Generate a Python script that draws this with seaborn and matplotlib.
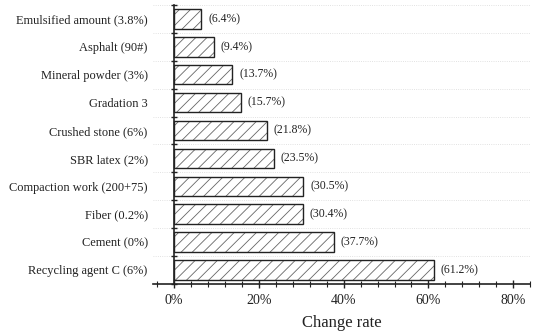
import numpy as np
import pandas as pd
import matplotlib
matplotlib.use('Agg')
import matplotlib.pyplot as plt
import matplotlib.colors as mcolors
import seaborn as sns
from matplotlib.ticker import MultipleLocator, FuncFormatter

categories = ['Emulsified amount (3.8%)', 'Asphalt (90#)', 'Mineral powder (3%)',
              'Gradation 3', 'Crushed stone (6%)', 'SBR latex (2%)',
              'Compaction work (200+75)', 'Fiber (0.2%)', 'Cement (0%)',
              'Recycling agent C (6%)']
change_rate = [6.4, 9.4, 13.7, 15.7, 21.8, 23.5, 30.5, 30.4, 37.7, 61.2]
value_labels = ['(6.4%)', '(9.4%)', '(13.7%)', '(15.7%)', '(21.8%)', '(23.5%)',
                '(30.5%)', '(30.4%)', '(37.7%)', '(61.2%)']


def main():
    sns.set_theme(style='white')
    plt.rcParams['font.family'] = ['Liberation Serif', 'DejaVu Serif']
    plt.rcParams['hatch.linewidth'] = 0.6

    df = pd.DataFrame({'Factor': categories, 'Change': change_rate})

    fig = plt.figure(figsize=(5.5, 3.34), dpi=100)
    ax = fig.add_axes([0.278, 0.15, 0.686, 0.835])

    sns.barplot(data=df, y='Factor', x='Change', orient='h', color='white',
                edgecolor='#222222', linewidth=1.0, width=0.7, ax=ax)
    for p in ax.patches:
        p.set_hatch('///')
        p.set_facecolor('white')
        p._hatch_color = mcolors.to_rgba('#666666')  # lighter hatch than outline

    ax.bar_label(ax.containers[0], labels=value_labels, padding=5,
                 fontsize=8.5, color='#222222')

    ax.set_xlim(-5, 84)
    ax.set_ylim(9.5, -0.5)
    ax.xaxis.set_major_locator(MultipleLocator(20))
    ax.xaxis.set_minor_locator(MultipleLocator(4))
    ax.xaxis.set_major_formatter(FuncFormatter(lambda v, _: f'{v:.0f}%'))

    # boundaries between categories carry the y ticks and faint grid
    ax.set_yticks(np.arange(-0.5, len(categories), 1.0), minor=True)
    ax.tick_params(axis='y', which='major', left=True, length=0, labelsize=8.9,
                   pad=19, labelcolor='#222222')
    ax.tick_params(axis='y', which='minor', left=True, direction='inout',
                   length=5, width=1, color='#222222')
    ax.tick_params(axis='x', which='major', bottom=True, direction='inout',
                   length=6, width=1, labelsize=10, pad=4,
                   labelcolor='#222222', color='#222222')
    ax.tick_params(axis='x', which='minor', bottom=True, direction='inout',
                   length=4, width=0.8, color='#222222')
    ax.grid(axis='y', which='minor', linestyle=':', linewidth=0.6, color='#d8d8d8')
    ax.grid(axis='y', which='major', visible=False)
    ax.set_axisbelow(True)

    for s in ['top', 'right']:
        ax.spines[s].set_visible(False)
    ax.spines['left'].set_position(('data', 0))
    ax.spines['left'].set_color('#222222')
    ax.spines['bottom'].set_color('#222222')
    ax.spines['left'].set_linewidth(1.2)
    ax.spines['bottom'].set_linewidth(1.2)

    ax.set_ylabel('')
    ax.set_xlabel('Change rate', fontsize=12, labelpad=6, color='#222222')

    fig.savefig('out.png', dpi=100, facecolor='white')
    plt.close(fig)


if __name__ == '__main__':
    main()
